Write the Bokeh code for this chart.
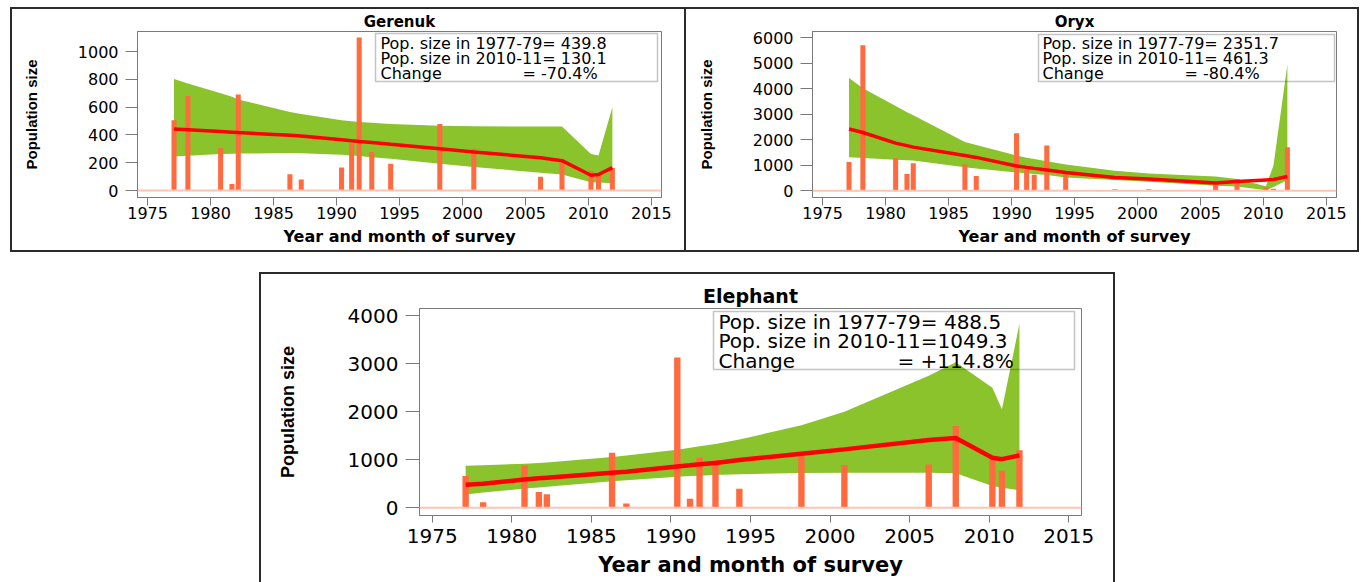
from bokeh.plotting import figure
from bokeh.models import Label, BoxAnnotation, Span, Div, Spacer, FixedTicker, Range1d, ColumnDataSource
from bokeh.layouts import row, column
from bokeh.embed import file_html
from bokeh.resources import INLINE

# ---------------- data ----------------
survey_year = [1977.1, 1978.2, 1980.8, 1981.7, 1982.2, 1986.3, 1987.2, 1990.4,
               1991.2, 1991.8, 1992.8, 1994.3, 1998.2, 2000.9, 2006.2, 2007.9,
               2010.2, 2010.8, 2011.9]

gerenuk_count = [505, 680, 305, 48, 690, 118, 80, 165, 340, 1100, 278, 193, 478, 300, 100, 198, 140, 125, 162]
gerenuk_upper = [803, 770, 700, 675, 655, 565, 550, 505, 498, 493, 487, 478, 466, 462, 460, 460, 262, 252, 600]
gerenuk_lower = [245, 250, 262, 265, 266, 270, 268, 258, 252, 248, 240, 228, 192, 170, 128, 115, 60, 58, 53]
gerenuk_trend = [442, 437, 425, 420, 417, 397, 392, 366, 358, 353, 346, 333, 300, 278, 236, 215, 110, 115, 165]

oryx_count = [1134, 5704, 1277, 660, 1080, 1028, 581, 2253, 818, 632, 1779, 660, 67, 60, 250, 450, 130, 80, 1711]
oryx_upper = [4415, 4020, 3320, 3080, 2964, 1909, 1800, 1383, 1300, 1250, 1160, 1028, 790, 684, 560, 462, 180, 1000, 4950]
oryx_lower = [1316, 1290, 1220, 1200, 1186, 921, 880, 723, 690, 665, 620, 526, 423, 356, 198, 170, 20, 150, 430]
oryx_trend = [2420, 2285, 1870, 1770, 1712, 1383, 1310, 976, 920, 880, 818, 723, 526, 462, 304, 368, 430, 445, 560]

elephant_count = [661, 118, 883, 327, 285, 1148, 90, 3130, 188, 1043, 995, 397, 1078, 890, 904, 1704, 1023, 772, 1197]
elephant_upper = [875, 885, 920, 935, 945, 1060, 1090, 1210, 1250, 1280, 1330, 1420, 1720, 2000, 2750, 3030, 2500, 2050, 3830]
elephant_lower = [278, 320, 400, 425, 440, 555, 575, 645, 660, 670, 685, 700, 725, 730, 730, 718, 452, 417, 369]
elephant_trend = [478, 499, 591, 615, 628, 730, 752, 860, 885, 905, 935, 995, 1127, 1217, 1412, 1454, 1043, 1013, 1092]

x_ticks = [1975, 1980, 1985, 1990, 1995, 2000, 2005, 2010, 2015]
gerenuk_y_ticks = [0, 200, 400, 600, 800, 1000]
oryx_y_ticks = [0, 1000, 2000, 3000, 4000, 5000, 6000]
elephant_y_ticks = [0, 1000, 2000, 3000, 4000]

gerenuk_stats = ["Pop. size in 1977-79= 439.8", "Pop. size in 2010-11= 130.1", "Change", "= -70.4%"]
oryx_stats = ["Pop. size in 1977-79= 2351.7", "Pop. size in 2010-11= 461.3", "Change", "= -80.4%"]
elephant_stats = ["Pop. size in 1977-79= 488.5", "Pop. size in 2010-11=1049.3", "Change", "= +114.8%"]

X_LABEL = "Year and month of survey"
Y_LABEL = "Population size"

# ---------------- styling ----------------
BAND = "#8AC32B"
BAR = "#FF6A3F"
TREND = "#FF0000"
BASE = "#FFC4B2"
AXIS = "#7a7a7a"
FRAME = "#2b2b2b"
FONT = "DejaVu Sans"


def panel(name, counts, upper, lower, trend, y_ticks, y_rng, width, height,
          borders, s):
    p = figure(width=width, height=height, output_backend="svg", toolbar_location=None,
               x_range=Range1d(1974.2, 2015.8), y_range=Range1d(*y_rng),
               min_border_left=borders[0], min_border_right=borders[1],
               min_border_top=borders[2], min_border_bottom=borders[3],
               title=name)
    src = ColumnDataSource(dict(x=survey_year, n=counts, up=upper, lo=lower, tr=trend))
    p.varea(x="x", y1="lo", y2="up", source=src, fill_color=BAND)
    p.vbar(x="x", top="n", bottom=0, width=0.4, source=src, fill_color=BAR, line_color=None)
    p.add_layout(Span(location=0, dimension="width", line_color=BASE, line_width=2))
    p.line(x="x", y="tr", source=src, line_color=TREND, line_width=s["lw"])

    p.xgrid.visible = False
    p.ygrid.visible = False
    p.outline_line_color = AXIS
    p.outline_line_width = 1
    p.background_fill_color = "white"
    p.border_fill_color = "white"

    p.title.align = "center"
    p.title.text_font = FONT
    p.title.text_font_style = "bold"
    p.title.text_font_size = s["title"]
    p.title.text_color = "black"
    p.title.standoff = s["title_standoff"]

    p.xaxis.ticker = FixedTicker(ticks=x_ticks)
    p.yaxis.ticker = FixedTicker(ticks=y_ticks)
    for ax in (p.xaxis[0], p.yaxis[0]):
        ax.axis_line_color = AXIS
        ax.major_tick_line_color = AXIS
        ax.minor_tick_line_color = None
        ax.major_tick_in = 0
        ax.major_label_text_font = FONT
        ax.major_label_text_font_size = s["tick"]
        ax.major_label_text_color = "black"
        ax.axis_label_text_font_style = "bold"
        ax.axis_label_text_color = "black"
    p.xaxis.major_tick_out = s["xtick_out"]
    p.yaxis.major_tick_out = s["ytick_out"]
    p.xaxis.major_label_standoff = s["xlab_so"]
    p.yaxis.major_label_standoff = 7
    p.xaxis.axis_label = X_LABEL
    p.xaxis.axis_label_text_font = FONT
    p.xaxis.axis_label_text_font_size = s["xlabel"]
    p.xaxis.axis_label_standoff = s["xaxl_so"]
    p.yaxis.axis_label = Y_LABEL
    p.yaxis.axis_label_text_font = "Liberation Sans"
    p.yaxis.axis_label_text_font_size = s["ylabel"]
    p.yaxis.axis_label_standoff = s["yaxl_so"]

    b = s["box"]
    p.add_layout(BoxAnnotation(left=b[0], right=b[1], top=b[2], bottom=b[3],
                               left_units="screen", right_units="screen",
                               top_units="screen", bottom_units="screen",
                               fill_alpha=0, line_color="#3c3c3c", line_width=1.5))
    ly = s["lines"]
    for txt, x, y in [(s["stats"][0], s["tx"], ly[0]), (s["stats"][1], s["tx"], ly[1]),
                      (s["stats"][2], s["tx"], ly[2]), (s["stats"][3], s["ex"], ly[2])]:
        p.add_layout(Label(x=x, y=y, x_units="screen", y_units="screen", text=txt,
                           text_font=FONT, text_font_size=s["legend"],
                           text_baseline="middle", text_align="left", text_color="black"))
    return p


small = dict(lw=3.5, title="15px", title_standoff=2, tick="16px", xtick_out=8, ytick_out=12,
             xlab_so=1, xlabel="16px", xaxl_so=5, ylabel="15px", yaxl_so=35, legend="16px")

p_ger = panel("Gerenuk", gerenuk_count, gerenuk_upper, gerenuk_lower, gerenuk_trend,
              gerenuk_y_ticks, (-50, 1144), 672, 241, (125, 23, 22, 53),
              dict(small, box=(238, 520, 164, 116), stats=gerenuk_stats, tx=243, ex=385,
                   lines=(154.5, 139.5, 124.5)))

p_ory = panel("Oryx", oryx_count, oryx_upper, oryx_lower, oryx_trend,
              oryx_y_ticks, (-260, 6240), 671, 241, (126, 21, 22, 53),
              dict(small, box=(226, 522, 163, 116), stats=oryx_stats, tx=230, ex=372,
                   lines=(154.3, 138.7, 123.7)))

big = dict(lw=4.5, title="19px", title_standoff=4, tick="20px", xtick_out=7, ytick_out=14,
           xlab_so=6, xlabel="21px", xaxl_so=7, ylabel="18px", yaxl_so=47, legend="20px")

p_ele = panel("Elephant", elephant_count, elephant_upper, elephant_lower, elephant_trend,
              elephant_y_ticks, (-160, 4150), 852, 308, (158, 32, 34, 67),
              dict(big, box=(294, 655, 204, 146), stats=elephant_stats, tx=299, ex=478,
                   lines=(194, 174.7, 155)))


def hline(w):
    return Div(width=w, height=2, margin=0, styles={"background-color": FRAME})


def vline(h):
    return Div(width=2, height=h, margin=0, styles={"background-color": FRAME})


def gap(w, h):
    return Spacer(width=w, height=h, margin=0)


layout = column(
    gap(10, 7),
    row(gap(10, 2), hline(1349)),
    row(gap(10, 241), vline(241), p_ger, vline(241), p_ory, vline(241)),
    row(gap(10, 2), hline(1349)),
    gap(10, 20),
    row(gap(259, 2), hline(856)),
    row(gap(259, 308), vline(308), p_ele, vline(308)),
)

open("out.html", "w").write(file_html(layout, INLINE))
